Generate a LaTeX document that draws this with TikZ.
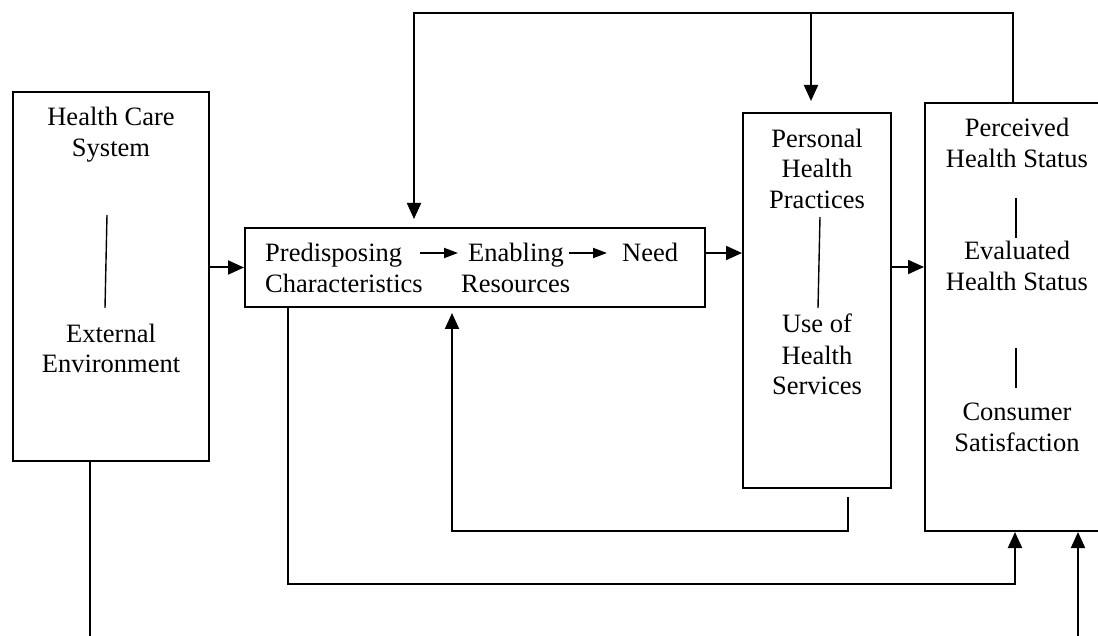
\documentclass[tikz,border=0pt]{standalone}
\usepackage{fontspec}
\setmainfont{Liberation Serif}
\usetikzlibrary{arrows.meta,calc}
\newcommand{\tfont}{\fontsize{26.5}{31}\selectfont}
\begin{document}
\begin{tikzpicture}[x=1pt,y=-1pt,
  boxnode/.style={draw, line width=2pt, inner sep=0pt, anchor=center},
  txt/.style={anchor=base, inner sep=0pt, font=\tfont},
  txtw/.style={anchor=base west, inner sep=0pt, font=\tfont},
  arr/.style={line width=2pt, -{Triangle[length=16pt,width=14pt]}},
  sarr/.style={line width=2pt, -{Triangle[length=14pt,width=10pt]}},
  sep/.style={line width=1.4pt}]
\useasboundingbox (0,0) rectangle (1098,636);
\clip (0,0) rectangle (1098,636);
\fill[white] (0,0) rectangle (1098,636);

% boxes
\node[boxnode, minimum width=196pt, minimum height=369pt] (env) at (111,276.5) {};
\node[boxnode, minimum width=460pt, minimum height=79pt] (mid) at (475,267.5) {};
\node[boxnode, minimum width=148pt, minimum height=375pt] (pers) at (817,300.5) {};
\node[boxnode, minimum width=205pt, minimum height=428pt] (out) at (1027.5,317) {};

% left box text
\node[txt] (hc) at (111,126) {Health Care};
\node[txt] (sys) at (111,157) {System};
\node[txt] (ext) at (111,342) {External};
\node[txt] (envt) at (111,373) {Environment};
\draw[sep] (107,215) -- (105,308);

% middle box text
\node[txtw] (pred) at (265,262) {Predisposing};
\node[txtw] (char) at (265,293) {Characteristics};
\node[txtw] (enab) at (468,262) {Enabling};
\node[txtw] (res) at (461,293) {Resources};
\node[txtw] (need) at (622,262) {Need};
\draw[sarr, shorten <=18pt, shorten >=10pt] (pred.east |- 0,253) -- (enab.west |- 0,253);
\draw[sarr, shorten <=5pt, shorten >=15pt] (enab.east |- 0,253) -- (need.west |- 0,253);

% personal box text
\node[txt] (p1) at (817,148) {Personal};
\node[txt] (p2) at (817,178) {Health};
\node[txt] (p3) at (817,209) {Practices};
\node[txt] (u1) at (817,333) {Use of};
\node[txt] (u2) at (817,364) {Health};
\node[txt] (u3) at (817,395) {Services};
\draw[sep] (820,217) -- (818,308);

% outcome box text
\node[txt] (o1) at (1017,137) {Perceived};
\node[txt] (o2) at (1017,168) {Health Status};
\node[txt] (o3) at (1017,260) {Evaluated};
\node[txt] (o4) at (1017,291) {Health Status};
\node[txt] (o5) at (1017,420) {Consumer};
\node[txt] (o6) at (1017,451) {Satisfaction};
\draw[sep] (1016,198) -- (1016,238);
\draw[sep] (1016,348) -- (1016,388);

% forward arrows
\draw[arr] (mid.west -| env.east) -- (mid.west);
\draw[arr] (mid.east |- 0,253) -- (pers.west |- 0,253);
\draw[arr] (pers.east |- 0,267) -- (out.west |- 0,267);

% top feedback
\coordinate (topbr) at (811,13);
\draw[arr, shorten >=8pt] (out.north -| 1013,0) |- (414,13) -- (mid.north -| 414,0);
\draw[arr, shorten >=11pt] (topbr) -- (pers.north -| topbr);

% loop from personal back to middle box
\draw[arr, shorten <=8pt, shorten >=5pt] (pers.south -| 848,0) |- (452,531) -- (mid.south -| 452,0);

% middle box to outcomes
\draw[arr] (mid.south -| 288,0) |- (1015,584) -- (out.south -| 1015,0);

% environment to outcomes (runs below the visible area)
\draw[arr] (env.south -| 90,0) -- (90,660) -| (out.south -| 1078,0);
\end{tikzpicture}
\end{document}
